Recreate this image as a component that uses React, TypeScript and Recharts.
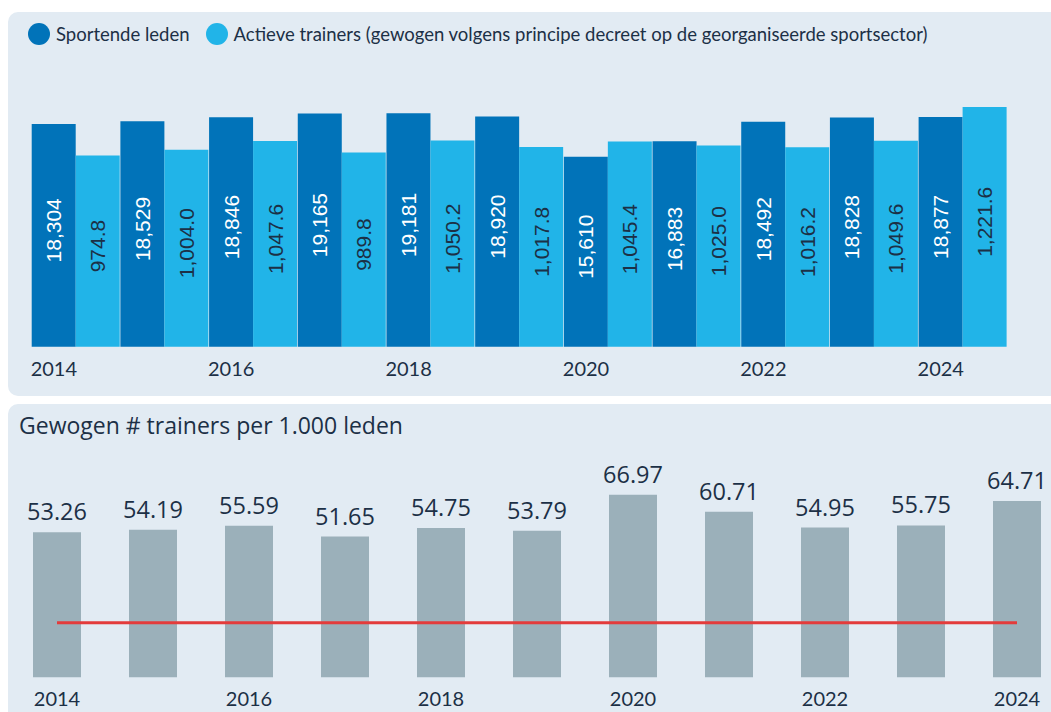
import React from 'react';
import { BarChart, Bar, XAxis, YAxis, LabelList, Legend, ReferenceLine } from 'recharts';

const years = ['2014', '2015', '2016', '2017', '2018', '2019', '2020', '2021', '2022', '2023', '2024'];
const sportendeLeden = [18304, 18529, 18846, 19165, 19181, 18920, 15610, 16883, 18492, 18828, 18877];
const actieveTrainers = [974.8, 1004.0, 1047.6, 989.8, 1050.2, 1017.8, 1045.4, 1025.0, 1016.2, 1049.6, 1221.6];
const trainersPer1000 = [53.26, 54.19, 55.59, 51.65, 54.75, 53.79, 66.97, 60.71, 54.95, 55.75, 64.71];
const normValue = 20;

const seriesNames = {
  leden: 'Sportende leden',
  trainers: 'Actieve trainers (gewogen volgens principe decreet op de georganiseerde sportsector)',
};
const legendOrder = [seriesNames.leden, seriesNames.trainers];
const bottomTitle = 'Gewogen # trainers per 1.000 leden';

const topData = years.map((y, i) => ({ year: y, leden: sportendeLeden[i], trainers: actieveTrainers[i] }));
const bottomData = years.map((y, i) => ({ year: y, ratio: trainersPer1000[i] }));

const DARK = '#0173b9';
const LIGHT = '#21b4e8';
const GREY = '#9bb0ba';
const RED = '#e33b3b';
const NAVY = '#1c3046';
const PANEL = '#e2ebf3';
const FONT = 'Lato, "Open Sans", sans-serif';
const FONT2 = '"Open Sans", sans-serif';

const fmtInt = (v: number) => v.toLocaleString('en-US');
const fmtDec1 = (v: number) => v.toLocaleString('en-US', { minimumFractionDigits: 1, maximumFractionDigits: 1 });

const makeInnerLabel = (color: string, fmt: (v: number) => string) => (props: any) => {
  const { x, y, width, height, value } = props;
  const cx = Number(x) + Number(width) / 2;
  const cy = Number(y) + Number(height) / 2 - 5;
  return (
    <text
      x={cx}
      y={cy}
      transform={`rotate(-90, ${cx}, ${cy})`}
      textAnchor="middle"
      dominantBaseline="central"
      fill={color}
      fontSize={21}
      fontFamily='"Liberation Sans", Arial, sans-serif'
    >
      {fmt(Number(value))}
    </text>
  );
};

const TopLabel = (props: any) => {
  const { x, y, width, value } = props;
  return (
    <text
      x={Number(x) + Number(width) / 2}
      y={Number(y) - 12}
      textAnchor="middle"
      fill={NAVY}
      fontSize={23.5}
      fontFamily={FONT2}
    >
      {Number(value).toFixed(2)}
    </text>
  );
};

const makeTick = (shift: number, dy: number) => (props: any) => {
  const { x, y, payload } = props;
  return (
    <text x={Number(x) + shift} y={y} dy={dy} textAnchor="middle" fill={NAVY} fontSize={20} fontFamily={FONT}>
      {payload.value}
    </text>
  );
};

const LegendContent = (props: any) => {
  const items = [...(props.payload || [])].sort(
    (a: any, b: any) => legendOrder.indexOf(a.value) - legendOrder.indexOf(b.value)
  );
  return (
    <div style={{ display: 'flex', alignItems: 'center', height: 26, fontFamily: FONT, fontSize: 18.5, color: NAVY, whiteSpace: 'nowrap' }}>
      {items.map((p: any, i: number) => (
        <div key={i} style={{ display: 'flex', alignItems: 'center', marginRight: 16 }}>
          <span style={{ display: 'inline-block', width: 22, height: 22, borderRadius: 11, background: p.color, marginRight: 6 }} />
          <span>{p.value}</span>
        </div>
      ))}
    </div>
  );
};

export default function App() {
  return (
    <div style={{ position: 'absolute', left: 0, top: 0, width: 1051, height: 712, overflow: 'hidden', background: '#ffffff' }}>
      <div style={{ position: 'absolute', left: 8, top: 12, width: 1070, height: 384, background: PANEL, borderRadius: 10 }} />
      <div style={{ position: 'absolute', left: 8, top: 404, width: 1070, height: 330, background: PANEL, borderRadius: 10 }} />

      <div style={{ position: 'absolute', left: 0, top: 0 }}>
        <BarChart
          width={1051}
          height={400}
          data={topData}
          barCategoryGap={0}
          barGap={0}
          margin={{ top: 74, left: 31.7, right: 43.7, bottom: 23.3 }}
        >
          <Legend
            verticalAlign="top"
            align="left"
            content={<LegendContent />}
            wrapperStyle={{ top: 21, left: 28, width: 'auto' }}
          />
          <XAxis
            dataKey="year"
            interval={1}
            axisLine={false}
            tickLine={false}
            height={30}
            tick={makeTick(-22.2, 21)}
          />
          <YAxis yAxisId="leden" hide domain={[0, 20270]} />
          <YAxis yAxisId="trainers" hide orientation="right" domain={[0, 1257]} />
          <Bar dataKey="leden" name={seriesNames.leden} yAxisId="leden" fill={DARK} isAnimationActive={false}>
            <LabelList dataKey="leden" content={makeInnerLabel('#ffffff', fmtInt)} />
          </Bar>
          <Bar dataKey="trainers" name={seriesNames.trainers} yAxisId="trainers" fill={LIGHT} isAnimationActive={false}>
            <LabelList dataKey="trainers" content={makeInnerLabel(NAVY, fmtDec1)} />
          </Bar>
        </BarChart>
      </div>

      <div style={{ position: 'absolute', left: 19, top: 409.4, fontFamily: FONT2, fontSize: 23, lineHeight: 'normal', color: NAVY, whiteSpace: 'nowrap' }}>
        {bottomTitle}
      </div>

      <div style={{ position: 'absolute', left: 0, top: 404 }}>
        <BarChart
          width={1080}
          height={308}
          data={bottomData}
          margin={{ top: 55.3, left: 9, right: 15, bottom: 4.7 }}
        >
          <XAxis
            dataKey="year"
            interval={1}
            axisLine={false}
            tickLine={false}
            height={30}
            tick={makeTick(0, 21)}
          />
          <YAxis hide domain={[0, 80]} />
          <Bar dataKey="ratio" fill={GREY} barSize={48} isAnimationActive={false}>
            <LabelList dataKey="ratio" content={TopLabel} />
          </Bar>
          <ReferenceLine
            segment={[{ x: years[0], y: normValue }, { x: years[years.length - 1], y: normValue }]}
            stroke={RED}
            strokeWidth={3}
          />
        </BarChart>
      </div>
    </div>
  );
}
